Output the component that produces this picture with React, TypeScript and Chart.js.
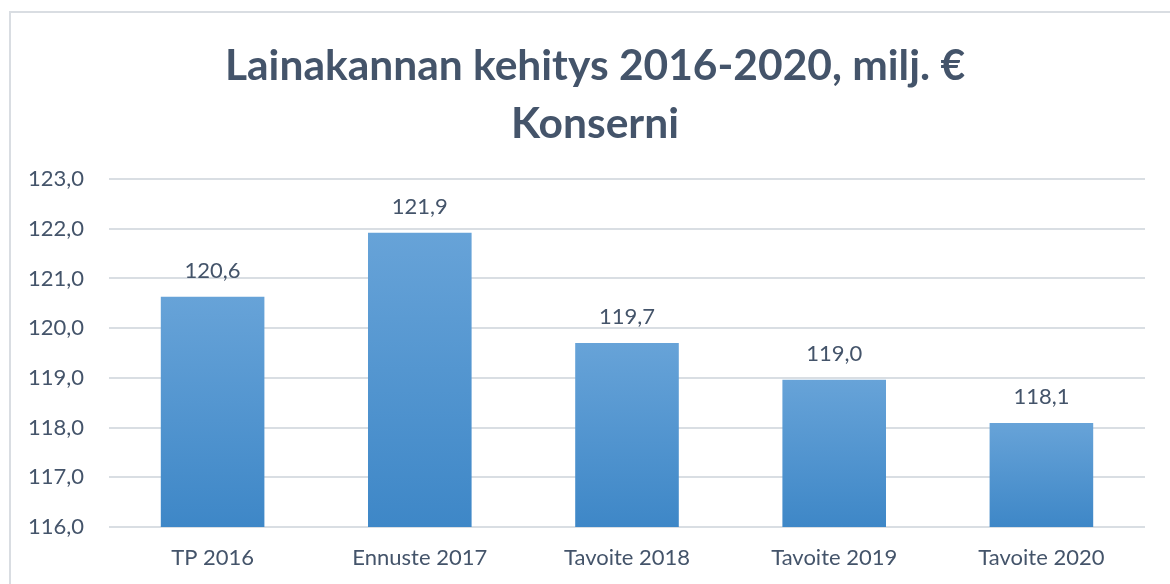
import React, { useEffect, useRef } from 'react';
import { Chart, registerables } from 'chart.js';

Chart.register(...registerables);

const categories = ['TP 2016', 'Ennuste 2017', 'Tavoite 2018', 'Tavoite 2019', 'Tavoite 2020'];
const values = [120.63, 121.92, 119.7, 118.96, 118.09];
const titleLines = ['Lainakannan kehitys 2016-2020, milj. €', 'Konserni'];
const yMin = 116;
const yMax = 123;
const yStep = 1;

const TEXT = '#44546A';
const FONT = 'Lato';

const fmt = (v: number) => v.toFixed(1).replace('.', ',');

const framePlugin = {
  id: 'frame',
  beforeDraw(chart: any) {
    const c = chart.ctx;
    c.save();
    c.fillStyle = '#FFFFFF';
    c.fillRect(0, 0, chart.width, chart.height);
    c.strokeStyle = '#D9DDE2';
    c.lineWidth = 2;
    c.strokeRect(10, 12, chart.width + 40, chart.height + 40);
    c.restore();
  },
};

const labelPlugin = {
  id: 'barLabels',
  afterDatasetsDraw(chart: any) {
    const c = chart.ctx;
    const meta = chart.getDatasetMeta(0);
    c.save();
    c.fillStyle = TEXT;
    c.font = `22px ${FONT}`;
    c.textAlign = 'center';
    c.textBaseline = 'alphabetic';
    meta.data.forEach((bar: any, i: number) => {
      const v = chart.data.datasets[0].data[i] as number;
      c.fillText(fmt(v), bar.x, bar.y - 19);
    });
    c.restore();
  },
};

export default function App() {
  const ref = useRef<HTMLCanvasElement | null>(null);

  useEffect(() => {
    document.body.style.margin = '0';
    if (!ref.current) return;
    const chart = new Chart(ref.current, {
      type: 'bar',
      data: {
        labels: categories,
        datasets: [
          {
            data: values,
            backgroundColor: (ctx: any) => {
              const ch = ctx.chart;
              if (!ch.chartArea || ctx.type !== 'data') return '#5B9BD5';
              const ys = ch.scales.y;
              const top = ys.getPixelForValue(ctx.raw);
              const bottom = ys.getPixelForValue(yMin);
              const g = ch.ctx.createLinearGradient(0, top, 0, bottom);
              g.addColorStop(0, '#67A3D8');
              g.addColorStop(1, '#3E87C7');
              return g;
            },
            borderWidth: 0,
            categoryPercentage: 1,
            barPercentage: 0.5,
          },
        ],
      },
      options: {
        responsive: false,
        animation: false,
        layout: { padding: { left: 20, right: 0, top: 0, bottom: 0 } },
        plugins: {
          legend: { display: false },
          tooltip: { enabled: false },
          title: {
            display: true,
            text: titleLines,
            color: TEXT,
            font: { family: FONT, size: 42.5, weight: 'bold', lineHeight: 58 / 42.5 },
            padding: { top: 37, bottom: 26 },
          },
        },
        scales: {
          x: {
            afterFit: (scale: any) => {
              scale.height = 57;
            },
            grid: { display: false, drawTicks: false },
            border: { display: false },
            ticks: { color: TEXT, font: { family: FONT, size: 22 }, padding: 18 },
          },
          y: {
            min: yMin,
            max: yMax,
            afterFit: (scale: any) => {
              scale.width = 89;
            },
            grid: { color: '#D9DEE3', lineWidth: 2, drawTicks: false },
            border: { display: false },
            ticks: {
              stepSize: yStep,
              color: TEXT,
              font: { family: FONT, size: 22 },
              padding: 25,
              callback: (v: any) => fmt(Number(v)),
            },
          },
          yRight: {
            position: 'right',
            display: true,
            min: yMin,
            max: yMax,
            afterFit: (scale: any) => {
              scale.width = 25;
            },
            grid: { display: false, drawTicks: false },
            border: { display: false },
            ticks: { display: false },
          },
        },
      },
      plugins: [framePlugin, labelPlugin],
    });
    return () => chart.destroy();
  }, []);

  return (
    <div style={{ width: 1170, height: 584 }}>
      <canvas ref={ref} width={1170} height={584} />
    </div>
  );
}
